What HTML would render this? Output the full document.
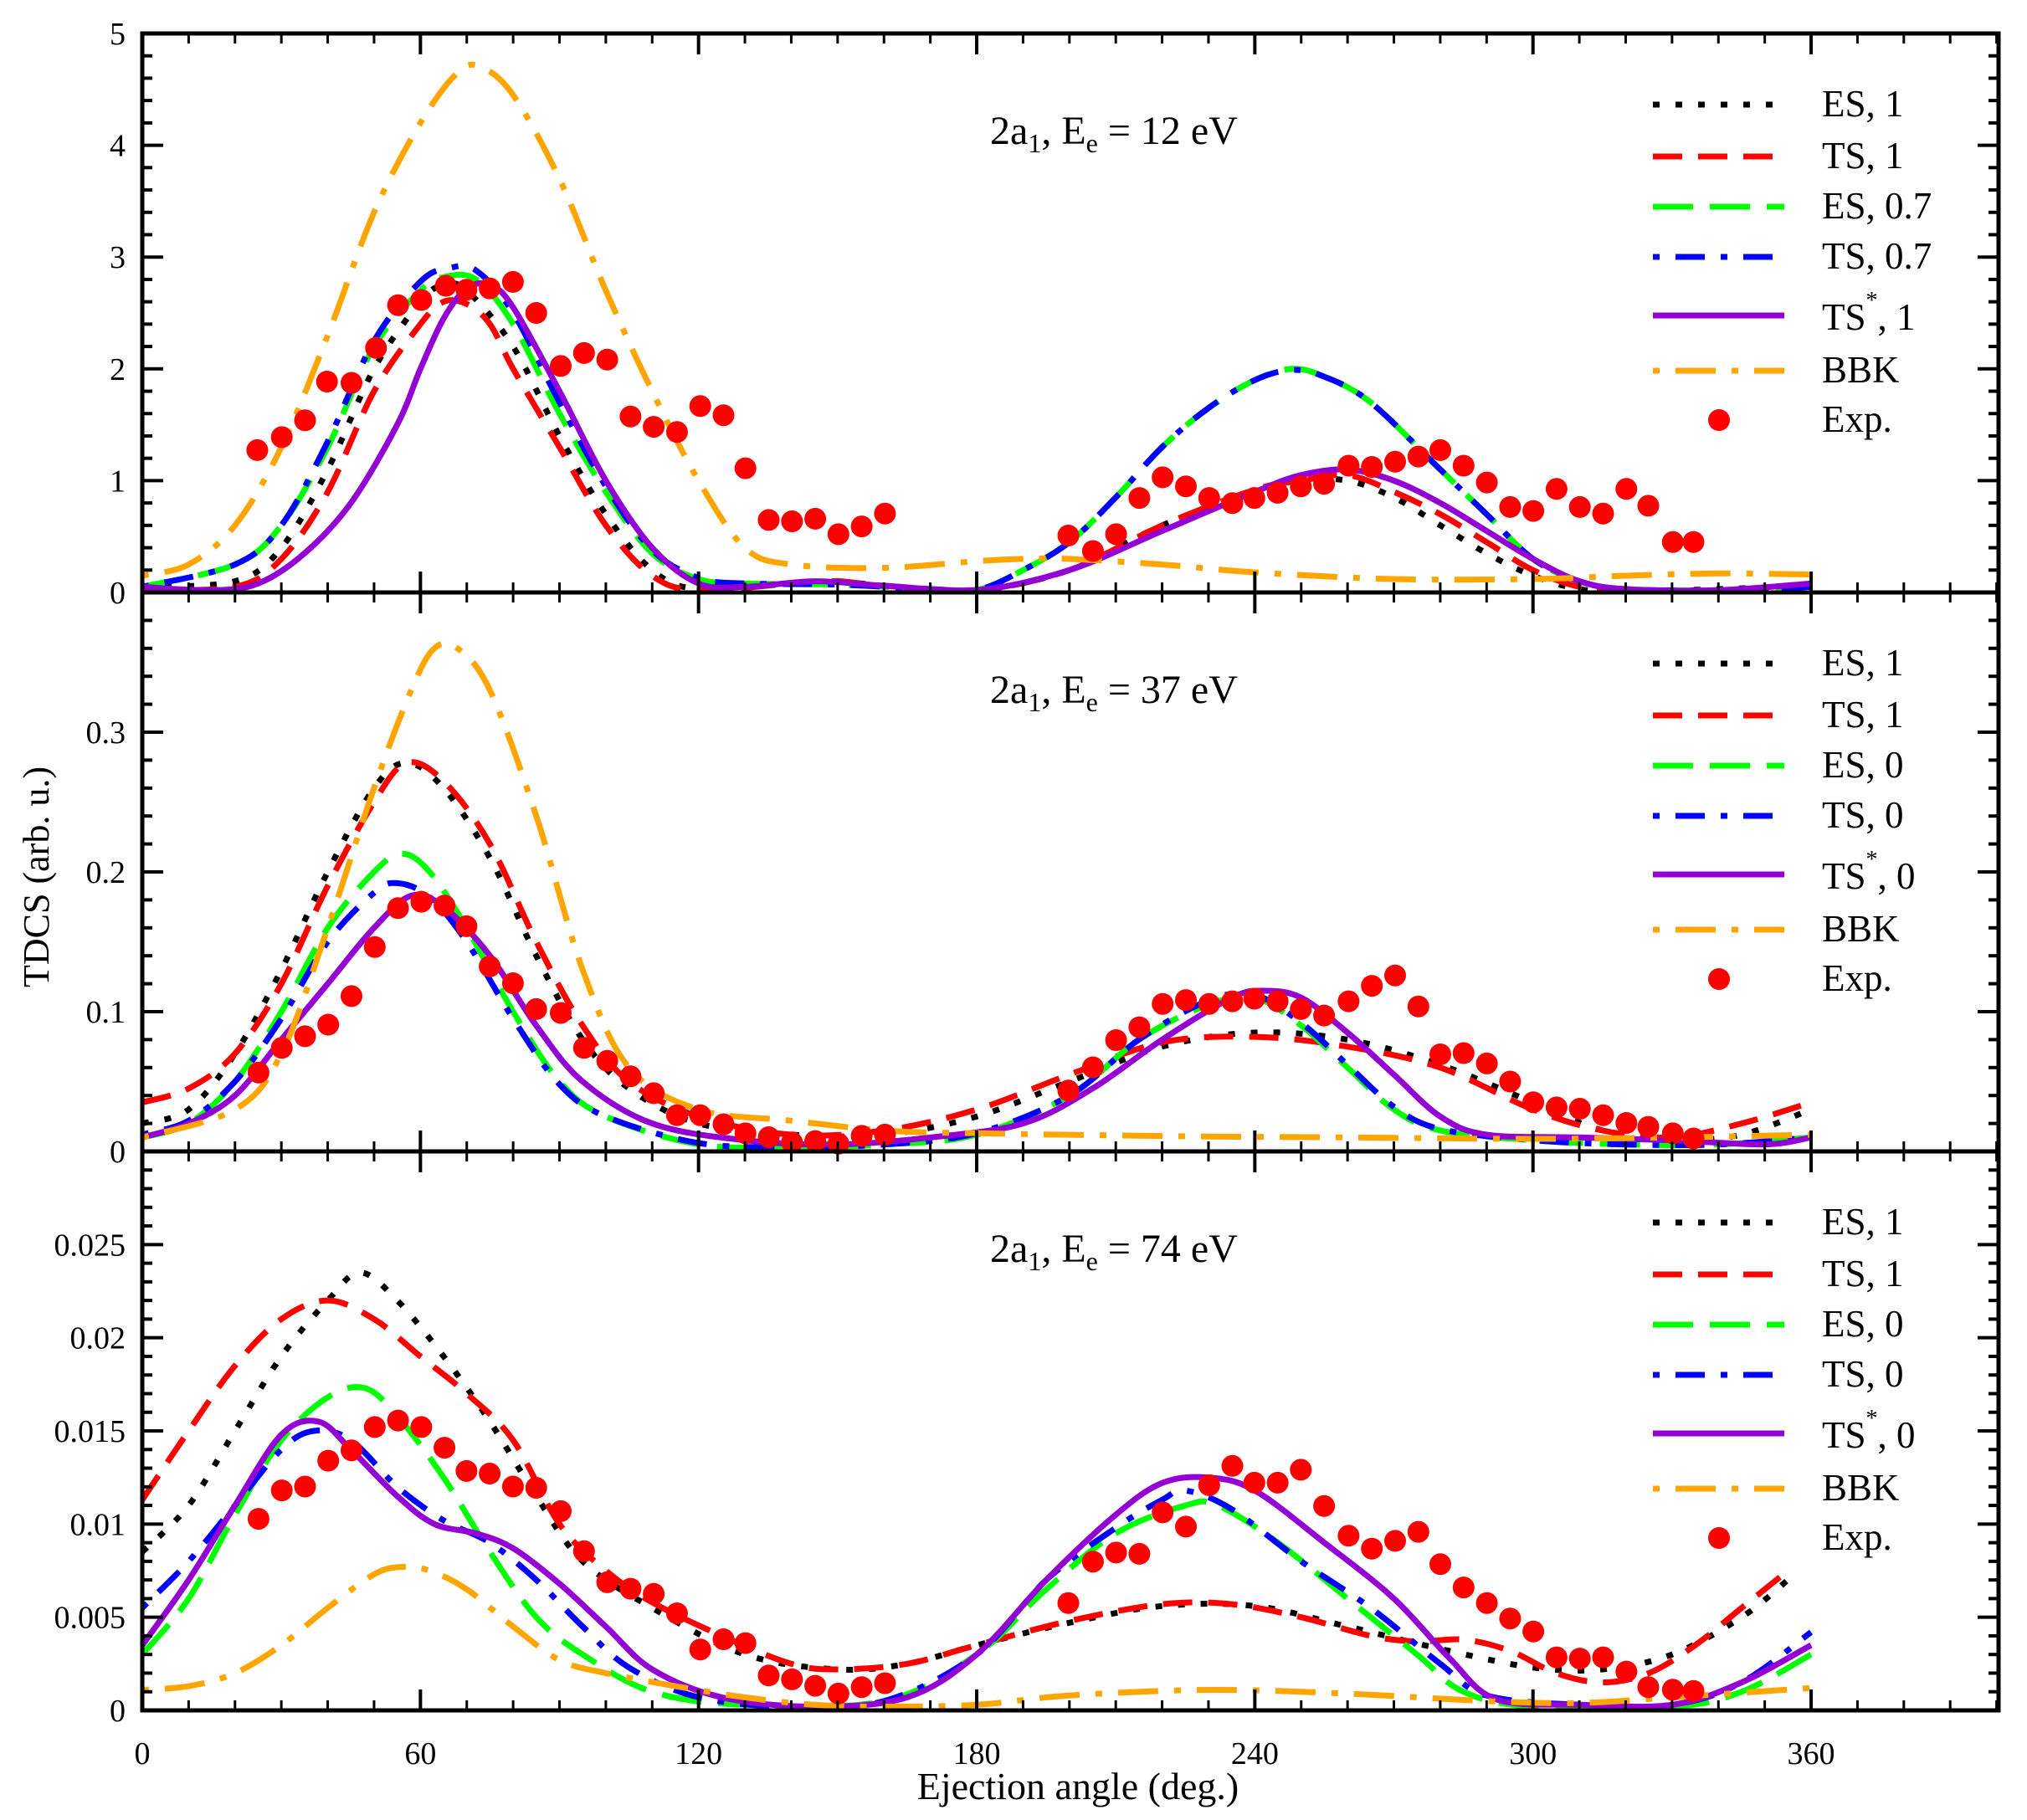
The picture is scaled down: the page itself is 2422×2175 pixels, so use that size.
<!DOCTYPE html>
<html><head><meta charset="utf-8"><style>
html,body{margin:0;padding:0;background:#fff}
svg{display:block;font-family:"Liberation Serif",serif}
</style></head><body>
<svg id="s" width="2422" height="2175" viewBox="0 0 2422 2175" xmlns="http://www.w3.org/2000/svg"></svg>
<script>
const S=document.getElementById('s');const NS='http://www.w3.org/2000/svg';
function el(t,a,txt){const e=document.createElementNS(NS,t);for(const k in a)e.setAttribute(k,a[k]);if(txt!==undefined)e.textContent=txt;S.appendChild(e);return e;}
const L=170,R=2388,PX=5.539;
const X=d=>L+d*PX;
const panels=[
{top:40,bot:708,ymax:5,dbot:458,major:1,minor:0.2,labels:['0','1','2','3','4','5'],
 title:'12',leg:['ES, 1','TS, 1','ES, 0.7','TS, 0.7','TS*, 1','BBK','Exp.'],
 curves:[
 [[0,.05],[20,.1],[30,.4],[40,1.1],[50,2.0],[60,2.6],[65,2.75],[70,2.7],[80,2.2],[90,1.4],[100,.7],[110,.2],[120,.03],[140,.08],[150,.1],[160,.06],[180,.02],[200,.2],[220,.6],[240,.9],[250,1.0],[260,1.0],[270,.85],[280,.6],[290,.35],[300,.15],[310,.03],[320,.01],[340,.03],[360,.06]],
 [[0,.02],[20,.05],[30,.3],[40,.9],[50,1.8],[60,2.4],[65,2.6],[70,2.58],[75,2.4],[80,2.0],[90,1.3],[100,.6],[110,.15],[120,.02],[140,.08],[150,.1],[160,.06],[180,.02],[200,.2],[220,.6],[240,.92],[250,1.0],[260,1.05],[270,.9],[280,.7],[290,.45],[300,.2],[310,.05],[320,.01],[340,.02],[360,.05]],
 [[0,.05],[20,.25],[30,.6],[40,1.3],[50,2.2],[60,2.7],[65,2.82],[72,2.8],[80,2.4],[90,1.6],[100,.9],[110,.35],[120,.12],[130,.08],[150,.07],[170,.03],[180,.02],[190,.2],[200,.45],[210,.85],[220,1.3],[230,1.65],[240,1.9],[248,2.0],[255,1.93],[265,1.7],[280,1.1],[290,.7],[300,.3],[310,.1],[320,.03],[340,.02],[360,.05]],
 [[0,.05],[20,.25],[30,.6],[40,1.35],[50,2.25],[60,2.78],[66,2.9],[72,2.88],[80,2.5],[90,1.7],[100,.95],[110,.38],[120,.13],[130,.08],[150,.07],[170,.03],[180,.02],[190,.2],[200,.45],[210,.85],[220,1.3],[230,1.65],[240,1.9],[248,1.99],[255,1.93],[265,1.7],[280,1.1],[290,.7],[300,.3],[310,.1],[320,.03],[340,.02],[360,.05]],
 [[0,.05],[15,.02],[25,.08],[35,.35],[45,.8],[55,1.5],[60,2.0],[65,2.45],[70,2.72],[75,2.75],[80,2.55],[90,1.8],[100,1.0],[110,.4],[120,.08],[130,.05],[145,.1],[160,.06],[180,.02],[200,.2],[220,.55],[240,.9],[250,1.05],[260,1.1],[270,1.0],[280,.8],[290,.55],[300,.3],[310,.1],[320,.03],[340,.02],[360,.08]],
 [[0,.15],[10,.25],[20,.6],[30,1.3],[40,2.3],[50,3.4],[60,4.2],[68,4.65],[73,4.7],[80,4.45],[90,3.7],[100,2.7],[110,1.8],[120,1.0],[130,.4],[140,.25],[160,.22],[180,.28],[190,.3],[200,.3],[220,.25],[240,.18],[270,.12],[300,.12],[320,.15],[340,.17],[360,.16]]],
 exp:[[197,348],[216,338],[234,325],[251,295],[270,296],[289,269],[306,236],[324,232],[343,221],[359,224],[377,223],[395,218],[413,242],[432,283],[450,273],[468,278],[486,322],[504,330],[522,334],[540,314],[558,321],[575,362],[593,402],[611,403],[629,401],[647,413],[665,407],[683,397],[825,414],[844,426],[862,413],[880,385],[898,369],[916,376],[934,385],[952,389],[969,385],[987,381],[1005,376],[1023,374],[1042,360],[1060,361],[1078,357],[1096,353],[1113,348],[1131,360],[1149,373],[1167,392],[1185,395],[1203,378],[1221,392],[1239,397],[1257,378],[1274,391],[1293,419],[1309,419]]},
{top:708,bot:1376,ymax:0.4,dbot:890,major:0.1,minor:0.02,labels:['0','0.1','0.2','0.3',''],
 title:'37',leg:['ES, 1','TS, 1','ES, 0','TS, 0','TS*, 0','BBK','Exp.'],
 curves:[
 [[0,.02],[10,.03],[20,.07],[30,.13],[40,.2],[50,.26],[57,.278],[65,.26],[75,.21],[85,.14],[95,.08],[105,.045],[120,.02],[140,.012],[160,.012],[180,.025],[200,.05],[220,.075],[240,.085],[260,.08],[280,.062],[300,.035],[315,.015],[330,.008],[345,.012],[360,.03]],
 [[0,.035],[10,.045],[20,.07],[30,.12],[40,.19],[50,.25],[57,.278],[65,.265],[75,.22],[85,.15],[95,.09],[105,.05],[120,.025],[140,.012],[160,.015],[180,.03],[200,.055],[220,.078],[240,.082],[260,.075],[280,.06],[300,.03],[315,.015],[330,.01],[345,.02],[360,.035]],
 [[0,.01],[10,.02],[20,.05],[30,.1],[40,.16],[50,.2],[56,.213],[62,.2],[70,.16],[80,.1],[90,.05],[100,.025],[120,.005],[140,.003],[160,.005],[180,.012],[200,.04],[215,.08],[230,.105],[240,.11],[250,.09],[260,.06],[270,.03],[280,.015],[300,.008],[320,.005],[340,.005],[360,.01]],
 [[0,.012],[10,.022],[20,.05],[30,.095],[40,.15],[50,.185],[55,.192],[62,.182],[70,.15],[80,.095],[90,.048],[100,.025],[120,.006],[140,.003],[160,.005],[180,.013],[200,.04],[215,.08],[230,.108],[240,.112],[250,.092],[260,.062],[270,.032],[280,.016],[300,.008],[320,.005],[340,.005],[360,.01]],
 [[0,.01],[10,.02],[20,.04],[30,.08],[40,.12],[50,.16],[58,.183],[65,.175],[75,.14],[85,.09],[95,.05],[110,.02],[130,.008],[150,.005],[170,.01],[190,.02],[205,.045],[220,.08],[235,.11],[242,.115],[250,.11],[260,.085],[270,.055],[280,.025],[290,.012],[310,.01],[330,.008],[350,.005],[360,.01]],
 [[0,.01],[20,.03],[30,.07],[40,.16],[50,.26],[58,.33],[63,.36],[68,.36],[75,.33],[85,.24],[95,.13],[105,.06],[120,.03],[140,.022],[160,.015],[180,.013],[220,.011],[260,.01],[300,.009],[330,.01],[360,.012]]],
 exp:[[198,829],[216,810],[234,801],[252,792],[270,770],[288,732],[306,702],[324,697],[342,700],[359,716],[377,747],[395,760],[413,780],[432,783],[450,810],[468,820],[486,832],[504,845],[522,862],[540,862],[558,869],[575,876],[593,879],[611,883],[629,882],[647,884],[665,878],[683,877],[825,843],[844,825],[862,804],[880,794],[898,776],[916,773],[934,776],[952,774],[969,772],[987,774],[1005,780],[1023,785],[1042,774],[1060,762],[1078,754],[1096,778],[1113,815],[1131,814],[1149,822],[1167,836],[1185,852],[1203,856],[1221,857],[1239,862],[1257,868],[1274,871],[1293,876],[1309,880]]},
{top:1376,bot:2044,ymax:0.03,dbot:1323,major:0.005,minor:0.001,labels:['0','0.005','0.01','0.015','0.02','0.025',''],
 title:'74',leg:['ES, 1','TS, 1','ES, 0','TS, 0','TS*, 0','BBK','Exp.'],
 curves:[
 [[0,.0085],[10,.011],[20,.015],[30,.019],[40,.022],[47,.0235],[55,.022],[65,.019],[75,.0155],[85,.0115],[95,.008],[110,.0055],[130,.003],[150,.0022],[165,.0025],[180,.0035],[200,.0047],[220,.0056],[240,.0056],[260,.0045],[280,.0033],[300,.0023],[315,.0022],[330,.003],[345,.005],[355,.007]],
 [[0,.0113],[10,.015],[20,.0185],[30,.021],[40,.022],[50,.021],[60,.019],[70,.017],[80,.0145],[90,.01],[100,.0075],[110,.0058],[125,.004],[140,.0025],[150,.0022],[165,.0025],[180,.0035],[200,.0048],[220,.0057],[235,.0057],[250,.005],[265,.004],[275,.0037],[285,.0038],[295,.0032],[305,.002],[315,.0015],[325,.002],[335,.0035],[345,.0055],[355,.0075]],
 [[0,.003],[10,.006],[20,.0105],[30,.0145],[40,.0168],[48,.0173],[55,.0158],[65,.0125],[75,.0085],[85,.005],[95,.003],[110,.001],[130,.0003],[160,.0005],[180,.003],[195,.0065],[210,.0095],[225,.011],[232,.011],[245,.009],[260,.006],[275,.003],[285,.001],[300,.0002],[330,.0002],[345,.001],[360,.003]],
 [[0,.0055],[10,.008],[20,.011],[30,.014],[37,.015],[45,.0145],[55,.012],[65,.0102],[75,.009],[85,.007],[95,.0045],[105,.0023],[120,.0007],[140,.0002],[160,.0005],[180,.003],[195,.007],[210,.0098],[220,.0113],[225,.0118],[235,.0108],[250,.008],[265,.0055],[280,.0025],[290,.0008],[310,.0003],[330,.0003],[345,.0015],[360,.0042]],
 [[0,.0035],[10,.007],[20,.011],[30,.0148],[38,.0155],[45,.014],[55,.0115],[63,.01],[72,.0095],[80,.0087],[90,.0068],[100,.0045],[110,.0022],[125,.0007],[145,.0002],[165,.0007],[180,.003],[195,.007],[210,.0105],[220,.0122],[230,.0125],[240,.0118],[255,.009],[270,.006],[282,.0028],[292,.0006],[310,.0003],[330,.0003],[345,.0015],[360,.0035]],
 [[0,.0011],[10,.0013],[20,.002],[30,.0035],[40,.0055],[50,.0073],[56,.0077],[62,.0075],[70,.0065],[80,.0045],[90,.0027],[100,.002],[115,.0013],[130,.0007],[145,.0003],[160,.0002],[180,.0003],[200,.0008],[230,.0011],[260,.0009],[290,.0005],[310,.0004],[330,.0007],[360,.0012]]],
 exp:[[198,1175],[216,1153],[234,1150],[252,1130],[270,1122],[288,1104],[306,1099],[324,1104],[342,1120],[359,1138],[377,1140],[395,1150],[413,1151],[432,1169],[450,1200],[468,1224],[486,1229],[504,1233],[522,1248],[540,1276],[558,1268],[575,1271],[593,1296],[611,1299],[629,1304],[647,1310],[665,1305],[683,1302],[825,1240],[844,1208],[862,1201],[880,1202],[898,1170],[916,1181],[934,1149],[952,1134],[969,1147],[987,1147],[1005,1137],[1023,1165],[1042,1188],[1060,1198],[1078,1192],[1096,1185],[1113,1210],[1131,1228],[1149,1240],[1167,1252],[1185,1262],[1203,1282],[1221,1283],[1239,1282],[1257,1293],[1274,1305],[1293,1307],[1309,1308]]}
];
const styles=[
 {c:'#000',d:'8 19'},
 {c:'#f00',d:'35 19'},
 {c:'#0f0',d:'48 20'},
 {c:'#00f',d:'8 19 35 19'},
 {c:'#9400d3',d:''},
 {c:'#ffa500',d:'8 19 48 19'}];
function smooth(pts,ymax){
 let d='M'+pts[0][0].toFixed(1)+','+pts[0][1].toFixed(1);
 for(let i=0;i<pts.length-1;i++){const p0=pts[Math.max(0,i-1)],p1=pts[i],p2=pts[i+1],p3=pts[Math.min(pts.length-1,i+2)];
  const c1=[p1[0]+(p2[0]-p0[0])/6,Math.min(ymax,p1[1]+(p2[1]-p0[1])/6)],c2=[p2[0]-(p3[0]-p1[0])/6,Math.min(ymax,p2[1]-(p3[1]-p1[1])/6)];
  d+=` C${c1[0].toFixed(1)},${c1[1].toFixed(1)} ${c2[0].toFixed(1)},${c2[1].toFixed(1)} ${p2[0].toFixed(1)},${p2[1].toFixed(1)}`;}
 return d;}
panels.forEach((p,pi)=>{
 const H=p.bot-p.top,Y=v=>p.bot-v/p.ymax*H;
 p.curves.forEach((c,i)=>{const st=styles[i];
  el('path',{d:smooth(c.map(q=>[X(q[0]),Y(q[1])]),p.bot-1),fill:'none',stroke:st.c,'stroke-width':7,'stroke-dasharray':st.d,'stroke-linejoin':'round'});});
 const sc=H/432;
 p.exp.forEach(q=>el('circle',{cx:(L+(q[0]-108)*1.5433).toFixed(1),cy:(p.bot-(p.dbot-q[1])*sc).toFixed(1),r:13,fill:'#f00'}));
 const nMin=Math.round(p.ymax/p.minor);
 for(let k=0;k<=nMin;k++){const y=Y(k*p.minor);const maj=Math.abs((k*p.minor/p.major)-Math.round(k*p.minor/p.major))<1e-6;
  const len=maj?25:12;el('line',{x1:L,y1:y,x2:L+len,y2:y,stroke:'#000','stroke-width':4});el('line',{x1:R,y1:y,x2:R-len,y2:y,stroke:'#000','stroke-width':4});}
 for(let d=0;d<=400;d+=10){const x=X(d);const len=d%60==0?25:12;
  el('line',{x1:x,y1:p.bot,x2:x,y2:p.bot-len,stroke:'#000','stroke-width':d%60==0?4:3});
  el('line',{x1:x,y1:p.top,x2:x,y2:p.top+len,stroke:'#000','stroke-width':d%60==0?4:3});}
 p.labels.forEach((t,k)=>{if(!t)return;el('text',{x:150,y:Y(k*p.major)+13,'text-anchor':'end','font-size':38},t);});
 el('rect',{x:L,y:p.top,width:R-L,height:H,fill:'none',stroke:'#000','stroke-width':5});
 const t=el('text',{x:1183,y:p.top+132,'font-size':48});
 t.innerHTML='2a<tspan dy="10" font-size="32">1</tspan><tspan dy="-10">, E</tspan><tspan dy="10" font-size="32">e</tspan><tspan dy="-10"> = '+p.title+' eV</tspan>';
 const rows=[85,147,207,267,337,403,462];
 rows.forEach((ry,i)=>{const y=p.top+ry;
  if(i<6){const st=styles[i];el('line',{x1:1975,y1:y,x2:2132,y2:y,stroke:st.c,'stroke-width':7,'stroke-dasharray':st.d});}
  else el('circle',{cx:2054,cy:y,r:13,fill:'#f00'});
  const lab=p.leg[i];const tt=el('text',{x:2177,y:y+(i==4?17:14),'font-size':45});
  if(lab.indexOf('*')>=0){const parts=lab.split('*');tt.innerHTML=parts[0]+'<tspan dy="-26" font-size="28">*</tspan><tspan dy="26">'+parts[1]+'</tspan>';}
  else tt.textContent=lab;});
});
[0,60,120,180,240,300,360].forEach(d=>el('text',{x:X(d),y:2108,'text-anchor':'middle','font-size':38},String(d)));
el('text',{x:1288,y:2150,'text-anchor':'middle','font-size':46},'Ejection angle (deg.)');
el('text',{x:0,y:0,'text-anchor':'middle','font-size':44,transform:'translate(58,1048) rotate(-90)'},'TDCS (arb. u.)');
</script>
</body></html>
